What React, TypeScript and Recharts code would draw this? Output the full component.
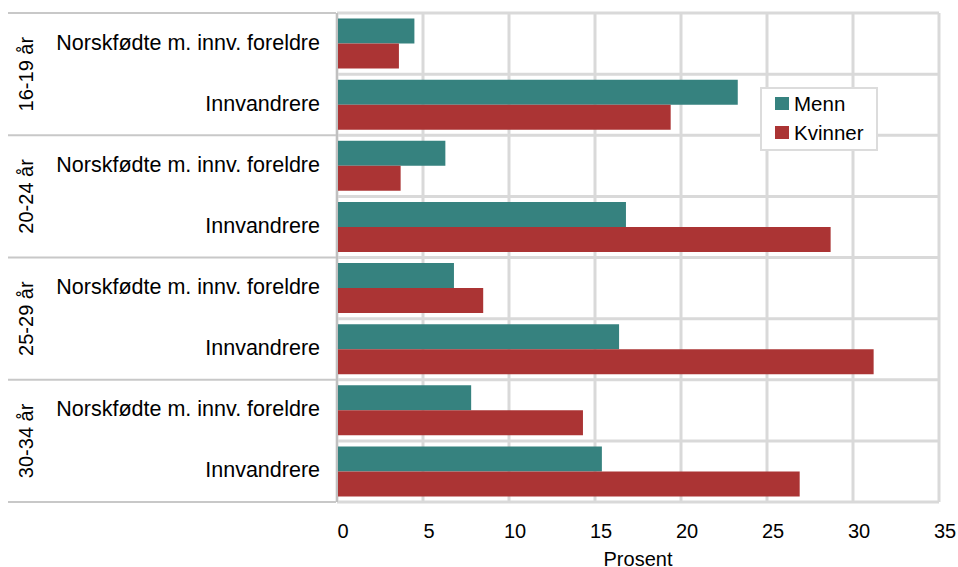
import { Bar, BarChart, CartesianGrid, Legend, XAxis, YAxis } from "recharts"

const ageGroups = ["16-19 år", "20-24 år", "25-29 år", "30-34 år"]
const subGroups = ["Norskfødte m. innv. foreldre", "Innvandrere"]
const menn = [4.5, 23.3, 6.3, 16.8, 6.8, 16.4, 7.8, 15.4]
const kvinner = [3.6, 19.4, 3.7, 28.7, 8.5, 31.2, 14.3, 26.9]
const xTicks = [0, 5, 10, 15, 20, 25, 30, 35]

const data = menn.map((m, i) => ({
    id: i,
    age: ageGroups[Math.floor(i / 2)],
    sub: subGroups[i % 2],
    Menn: m,
    Kvinner: kvinner[i],
}))

const W = 958
const H = 567
const margin = { top: 13, right: 19, bottom: 0, left: 0 }
const xAxisHeight = 65
const yAxisWidth = 337
const band = (H - margin.top - margin.bottom - xAxisHeight) / data.length
const font = "'Liberation Sans', Arial, sans-serif"
const TEAL = "#36827f"
const RED = "#ab3434"

function YTick(props: any) {
    const { y, payload, index } = props
    const row = data[payload.value] ?? data[index]
    return (
        <g>
            <text x={320} y={y - 1} textAnchor="end" dominantBaseline="central" fontSize={21.5} fill="#000" fontFamily={font}>
                {row.sub}
            </text>
            {index % 2 === 0 && (
                <>
                    <line x1={8} x2={336} y1={y - band / 2} y2={y - band / 2} stroke="#c8c8c8" strokeWidth={2} />
                    <text
                        x={26}
                        y={y + band / 2}
                        transform={`rotate(-90 26 ${y + band / 2})`}
                        textAnchor="middle"
                        dominantBaseline="central"
                        fontSize={20}
                        fill="#000"
                        fontFamily={font}
                    >
                        {row.age}
                    </text>
                </>
            )}
            {index === data.length - 1 && (
                <line x1={8} x2={336} y1={y + band / 2} y2={y + band / 2} stroke="#c8c8c8" strokeWidth={2} />
            )}
        </g>
    )
}

function LegendBox() {
    const items = [
        { name: "Menn", color: TEAL },
        { name: "Kvinner", color: RED },
    ]
    return (
        <div
            style={{
                width: 118,
                height: 64,
                border: "2px solid #dcdcdc",
                background: "#fff",
                fontFamily: font,
                fontSize: 20.5,
                color: "#000",
                padding: "0 0 0 13px",
                boxSizing: "border-box",
            }}
        >
            {items.map((it) => (
                <div key={it.name} style={{ display: "flex", alignItems: "center", height: 29 }}>
                    <span style={{ width: 14, height: 13, background: it.color, marginRight: 5, display: "inline-block" }} />
                    {it.name}
                </div>
            ))}
        </div>
    )
}

export default function App() {
    return (
        <div style={{ position: "absolute", left: 0, top: 0 }}>
            <BarChart
                width={W}
                height={H}
                data={data}
                layout="vertical"
                margin={margin}
                barCategoryGap="9%"
                barGap={0}
            >
                <CartesianGrid
                    stroke="#d9d9d9"
                    strokeWidth={3}
                    horizontalCoordinatesGenerator={({ offset }: any) =>
                        data.map((_, i) => offset.top + (i * offset.height) / data.length).concat(offset.top + offset.height)
                    }
                />
                <XAxis
                    type="number"
                    domain={[0, 35]}
                    ticks={xTicks}
                    axisLine={false}
                    tickLine={false}
                    tickMargin={16}
                    height={xAxisHeight}
                    tick={{ fontSize: 20, fill: "#000", fontFamily: font, dx: 6 }}
                    label={{ value: "Prosent", position: "insideBottom", offset: 1, fontSize: 20, fill: "#000", fontFamily: font }}
                />
                <YAxis
                    type="category"
                    dataKey="id"
                    width={yAxisWidth}
                    axisLine={{ stroke: "#c0c0c0", strokeWidth: 2 }}
                    tickLine={false}
                    tick={<YTick />}
                    interval={0}
                />
                <Legend
                    layout="vertical"
                    align="center"
                    verticalAlign="middle"
                    wrapperStyle={{ left: 760, top: 87, width: 118 }}
                    content={<LegendBox />}
                />
                <Bar dataKey="Menn" fill={TEAL} isAnimationActive={false} />
                <Bar dataKey="Kvinner" fill={RED} isAnimationActive={false} />
            </BarChart>
        </div>
    )
}
